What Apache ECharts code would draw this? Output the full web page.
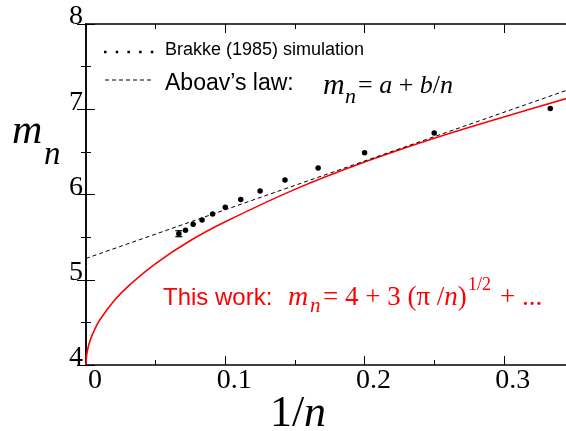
<!DOCTYPE html>
<html>
<head>
<meta charset="utf-8">
<script src="https://cdn.jsdelivr.net/npm/echarts@6/dist/echarts.min.js"></script>
<style>
html,body{margin:0;padding:0;background:#fff;}
#chart{width:566px;height:431px;}
</style>
</head>
<body>
<div id="chart"></div>
<script>
// ---- data ----
const simN = [3, 4, 5, 6, 7, 8, 9, 10, 11, 12, 13, 14, 15];
const simM = [7.01, 6.72, 6.49, 6.31, 6.17, 6.04, 5.94, 5.85, 5.77, 5.70, 5.65, 5.58, 5.54];
const errN = [15];
const errLow = [5.505];
const errHigh = [5.575];
const aboavX = [0, 0.35];
const aboavY = [5.25, 7.25];
const workX = [0, 0.0002, 0.001, 0.003, 0.006, 0.01, 0.02, 0.03, 0.05, 0.075, 0.1, 0.15, 0.2, 0.25, 0.3, 0.35];
const workY = [4.00, 4.075, 4.17, 4.29, 4.41, 4.53, 4.75, 4.92, 5.19, 5.46, 5.68, 6.06, 6.38, 6.66, 6.91, 7.15];
const xTicks = [0, 0.1, 0.2, 0.3];
const yTicks = [4, 5, 6, 7, 8];

const SERIF = '"Liberation Serif", "DejaVu Serif", serif';
const SANS = '"Liberation Sans", Arial, sans-serif';

const chart = echarts.init(document.getElementById('chart'), null, {renderer: 'canvas'});

const axisCommon = {
  type: 'value',
  splitLine: {show: false},
  axisLine: {show: true, lineStyle: {color: '#000', width: 1.5}},
  axisTick: {show: true, inside: true, length: 9, lineStyle: {color: '#000', width: 1}},
  minorTick: {show: true, splitNumber: 2, length: 5, lineStyle: {color: '#000', width: 1}}
};

const option = {
  animation: false,
  backgroundColor: '#fff',
  grid: {left: 86, width: 487.5, top: 24, bottom: 66, containLabel: false, outerBoundsMode: 'none'},
  xAxis: [
    Object.assign({}, axisCommon, {
      position: 'bottom', min: xTicks[0], max: 0.35, interval: 0.1,
      axisLabel: {
        show: true, color: '#000', fontFamily: SERIF, fontSize: 28, margin: 2,
        padding: [0, 0, 0, 18], showMaxLabel: false,
        formatter: v => (xTicks.some(t => Math.abs(t - v) < 1e-9) ? String(+v.toFixed(1)) : '')
      }
    }),
    Object.assign({}, axisCommon, {
      position: 'top', min: xTicks[0], max: 0.35, interval: 0.1,
      axisLabel: {show: false}
    })
  ],
  yAxis: [
    Object.assign({}, axisCommon, {
      position: 'left', min: yTicks[0], max: yTicks[yTicks.length - 1], interval: 1,
      axisLabel: {
        show: true, color: '#000', fontFamily: SERIF, fontSize: 28, margin: 3,
        verticalAlign: 'bottom', lineHeight: 14
      }
    }),
    Object.assign({}, axisCommon, {
      position: 'right', min: yTicks[0], max: yTicks[yTicks.length - 1], interval: 1,
      axisLabel: {show: false}
    })
  ],
  series: [
    {
      name: 'This work', type: 'line', smooth: 0.3, symbol: 'none',
      lineStyle: {color: '#ff0000', width: 1.6},
      data: workX.map((x, i) => [x, workY[i]]),
      z: 2
    },
    {
      name: "Aboav's law", type: 'line', symbol: 'none',
      lineStyle: {color: '#000', width: 1, type: [4, 3]},
      data: aboavX.map((x, i) => [x, aboavY[i]]),
      z: 3
    },
    {
      name: 'Brakke (1985) simulation', type: 'scatter', symbol: 'circle', symbolSize: 5.5,
      itemStyle: {color: '#000', opacity: 1},
      data: simN.map((n, i) => [1 / n, simM[i]]),
      z: 4
    },
    {
      name: 'error', type: 'custom',
      data: errN.map((n, i) => [1 / n, errLow[i], errHigh[i]]),
      renderItem: function (params, api) {
        const lo = api.coord([api.value(0), api.value(1)]);
        const hi = api.coord([api.value(0), api.value(2)]);
        const w = 3.5;
        const st = {stroke: '#000', lineWidth: 1.2};
        return {
          type: 'group',
          children: [
            {type: 'line', shape: {x1: lo[0], y1: lo[1], x2: hi[0], y2: hi[1]}, style: st},
            {type: 'line', shape: {x1: lo[0] - w, y1: lo[1], x2: lo[0] + w, y2: lo[1]}, style: st},
            {type: 'line', shape: {x1: hi[0] - w, y1: hi[1], x2: hi[0] + w, y2: hi[1]}, style: st}
          ]
        };
      },
      z: 5
    }
  ],
  graphic: [
    // y-axis title m_n
    {type: 'text', style: {x: 12, y: 132, text: 'm', font: 'italic 42px ' + SERIF, fill: '#000', verticalAlign: 'middle'}},
    {type: 'text', style: {x: 44, y: 155, text: 'n', font: 'italic 33px ' + SERIF, fill: '#000', verticalAlign: 'middle'}},
    // x-axis title 1/n
    {type: 'text', style: {x: 298, y: 414, text: '{u|1/}{i|n}', align: 'center', verticalAlign: 'middle',
      rich: {u: {font: '44px ' + SERIF, fill: '#000'}, i: {font: 'italic 44px ' + SERIF, fill: '#000'}}}},
    // legend samples
    {type: 'line', shape: {x1: 104, y1: 52, x2: 156, y2: 52}, style: {stroke: '#000', lineWidth: 2.5, lineDash: [2.5, 9.2]}},
    {type: 'line', shape: {x1: 105, y1: 80, x2: 151, y2: 80}, style: {stroke: '#000', lineWidth: 1, lineDash: [4, 3]}},
    {type: 'text', style: {x: 165, y: 50, text: 'Brakke (1985) simulation', font: '18px ' + SANS, fill: '#000', verticalAlign: 'middle'}},
    {type: 'text', style: {x: 165, y: 84, text: 'Aboav\u2019s law:', font: '23px ' + SANS, fill: '#000', verticalAlign: 'middle'}},
    {type: 'text', style: {x: 323, y: 86, text: 'm', font: 'italic 30px ' + SERIF, fill: '#000', verticalAlign: 'middle'}},
    {type: 'text', style: {x: 345, y: 97, text: 'n', font: 'italic 22px ' + SERIF, fill: '#000', verticalAlign: 'middle'}},
    {type: 'text', style: {x: 358, y: 86, text: '{u|= }{i|a}{u| + }{i|b}{u|/}{i|n}', verticalAlign: 'middle',
      rich: {u: {font: '26px ' + SERIF, fill: '#000'}, i: {font: 'italic 26px ' + SERIF, fill: '#000'}}}},
    // red formula
    {type: 'text', style: {x: 163, y: 298, text: 'This work:', font: '24px ' + SANS, fill: '#ff0000', verticalAlign: 'middle'}},
    {type: 'text', style: {x: 288, y: 298, text: 'm', font: 'italic 28px ' + SERIF, fill: '#ff0000', verticalAlign: 'middle'}},
    {type: 'text', style: {x: 310, y: 306, text: 'n', font: 'italic 21px ' + SERIF, fill: '#ff0000', verticalAlign: 'middle'}},
    {type: 'text', style: {x: 323, y: 298, text: '{u|= 4 + 3 (\u03c0 /}{i|n}{u|)}', verticalAlign: 'middle',
      rich: {u: {font: '27px ' + SERIF, fill: '#ff0000'}, i: {font: 'italic 27px ' + SERIF, fill: '#ff0000'}}}},
    {type: 'text', style: {x: 468, y: 285, text: '1/2', font: '18px ' + SERIF, fill: '#ff0000', verticalAlign: 'middle'}},
    {type: 'text', style: {x: 500, y: 298, text: '+ ...', font: '27px ' + SERIF, fill: '#ff0000', verticalAlign: 'middle'}}
  ]
};
chart.setOption(option);
</script>
</body>
</html>
